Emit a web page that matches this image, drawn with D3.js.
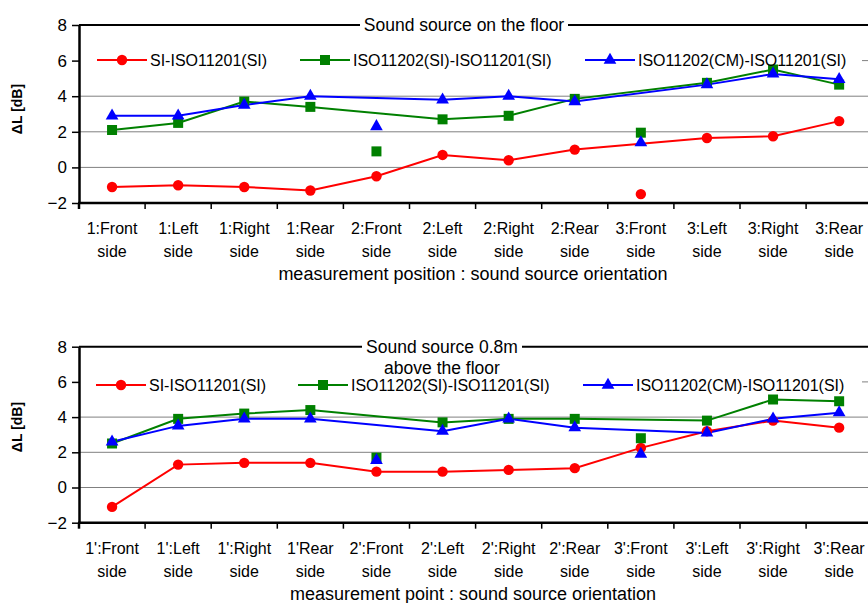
<!DOCTYPE html>
<html>
<head>
<meta charset="utf-8">
<script src="https://cdn.jsdelivr.net/npm/d3@7"></script>
<style>
  body { margin: 0; background: #fff; }
  text { font-family: Arial, "Liberation Sans", sans-serif; }
</style>
</head>
<body>
<script>
var width = 868,
    height = 603;

// categories (two text lines each)
var floorCats = ["1:Front", "1:Left", "1:Right", "1:Rear", "2:Front", "2:Left",
                 "2:Right", "2:Rear", "3:Front", "3:Left", "3:Right", "3:Rear"];
var raisedCats = ["1':Front", "1':Left", "1':Right", "1'Rear", "2':Front", "2':Left",
                  "2':Right", "2':Rear", "3':Front", "3':Left", "3':Right", "3':Rear"];
var yTicks = [-2, 0, 2, 4, 6, 8];
var seriesNames = ["SI-ISO11201(SI)", "ISO11202(SI)-ISO11201(SI)", "ISO11202(CM)-ISO11201(SI)"];

// sound source on the floor
var floorRed   = [-1.1, -1.0, -1.1, -1.3, -0.5, 0.7, 0.4, 1.0, null, 1.65, 1.75, 2.6];
var floorGreen = [2.1, 2.5, 3.7, 3.4, null, 2.7, 2.9, 3.85, null, 4.75, 5.5, 4.65];
var floorBlue  = [2.9, 2.9, 3.5, 4.0, null, 3.8, 4.0, 3.7, null, 4.65, 5.25, 4.95];
// single points at the same positions
var floorRedPts   = [null, null, null, null, null, null, null, null, -1.5, null, null, null];
var floorGreenPts = [null, null, null, null, 0.9, null, null, null, 1.95, null, null, null];
var floorBluePts  = [null, null, null, null, 2.3, null, null, null, 1.4, null, null, null];

// sound source 0.8m above the floor
var raisedRed   = [-1.1, 1.3, 1.4, 1.4, 0.9, 0.9, 1.0, 1.1, 2.25, 3.2, 3.8, 3.4];
var raisedGreen = [2.5, 3.9, 4.2, 4.4, null, 3.7, 3.9, 3.9, null, 3.8, 5.0, 4.9];
var raisedBlue  = [2.6, 3.5, 3.9, 3.9, null, 3.2, 3.9, 3.4, null, 3.1, 3.9, 4.25];
var raisedRedPts   = [null, null, null, null, null, null, null, null, null, null, null, null];
var raisedGreenPts = [null, null, null, null, 1.7, null, null, null, 2.8, null, null, null];
var raisedBluePts  = [null, null, null, null, 1.55, null, null, null, 1.9, null, null, null];

var colors = ["#ff0000", "#008000", "#0000ff"];
var shapes = [d3.symbolCircle, d3.symbolSquare, d3.symbolTriangle];
var sizes = [85, 100, 70];

var svg = d3.select("body").append("svg")
    .attr("width", width)
    .attr("height", height)
    .style("background-color", "#fff");

function drawPanel(cfg) {
    var g = svg.append("g");

    var x = d3.scaleBand()
        .domain(cfg.cats)
        .range([79, 79 + 66.1 * 12]);

    var y = d3.scaleLinear()
        .domain([-2, 8])
        .range([cfg.bottom, cfg.top]);

    var cx = function(i) { return x(cfg.cats[i]) + x.bandwidth() / 2; };

    // grid lines
    g.selectAll(".grid")
        .data(yTicks.filter(function(v) { return v > -2 && v < 8; }))
        .enter().append("line")
        .attr("x1", 79).attr("x2", width)
        .attr("y1", function(d) { return y(d); })
        .attr("y2", function(d) { return y(d); })
        .attr("stroke", "#808080")
        .attr("stroke-width", 1);

    // top border
    g.append("line")
        .attr("x1", 79).attr("x2", width)
        .attr("y1", y(8)).attr("y2", y(8))
        .attr("stroke", "#000").attr("stroke-width", 2);

    // legend background (hides the grid line)
    g.append("rect")
        .attr("x", 80).attr("y", cfg.legendY - 8)
        .attr("width", 782).attr("height", 15)
        .attr("fill", "#fff");

    // series lines
    cfg.series.forEach(function(vals, k) {
        var pts = vals.map(function(v, i) { return [cx(i), v]; })
            .filter(function(p) { return p[1] != null; });
        g.append("path")
            .attr("d", d3.line().x(function(p) { return p[0]; }).y(function(p) { return y(p[1]); })(pts))
            .attr("fill", "none")
            .attr("stroke", colors[k])
            .attr("stroke-width", 2);
    });

    // markers
    cfg.series.forEach(function(vals, k) {
        var all = vals.map(function(v, i) { return {i: i, v: v}; })
            .concat(cfg.points[k].map(function(v, i) { return {i: i, v: v}; }))
            .filter(function(d) { return d.v != null; });
        g.selectAll(".m" + k)
            .data(all)
            .enter().append("path")
            .attr("d", d3.symbol().type(shapes[k]).size(sizes[k]))
            .attr("transform", function(d) { return "translate(" + cx(d.i) + "," + y(d.v) + ")"; })
            .attr("fill", colors[k]);
    });

    // y axis
    var yAxis = g.append("g")
        .attr("transform", "translate(79,0)")
        .call(d3.axisLeft(y).tickValues(yTicks).tickSize(7).tickPadding(5).tickSizeOuter(0));
    yAxis.select(".domain").attr("stroke-width", 2.5);
    yAxis.selectAll(".tick line").attr("stroke-width", 1.5);
    yAxis.selectAll("text").style("font-size", "17px").attr("fill", "#000");

    // x axis
    g.append("line")
        .attr("x1", 78).attr("x2", width)
        .attr("y1", cfg.bottom).attr("y2", cfg.bottom)
        .attr("stroke", "#000").attr("stroke-width", 2.5);
    g.selectAll(".xt")
        .data(cfg.cats.slice(1))
        .enter().append("line")
        .attr("x1", function(d) { return x(d); })
        .attr("x2", function(d) { return x(d); })
        .attr("y1", cfg.bottom).attr("y2", cfg.bottom + 6)
        .attr("stroke", "#000").attr("stroke-width", 1.5);
    g.append("line")
        .attr("x1", 79).attr("x2", 79)
        .attr("y1", cfg.bottom).attr("y2", cfg.bottom + 6)
        .attr("stroke", "#000").attr("stroke-width", 2.5);

    var lab = g.selectAll(".xl")
        .data(cfg.cats)
        .enter().append("text")
        .attr("text-anchor", "middle")
        .style("font-size", "16px")
        .attr("fill", "#000");
    lab.append("tspan")
        .attr("x", function(d, i) { return cx(i); })
        .attr("y", cfg.bottom + 31)
        .text(function(d) { return d; });
    lab.append("tspan")
        .attr("x", function(d, i) { return cx(i); })
        .attr("y", cfg.bottom + 54)
        .text("side");

    g.append("text")
        .attr("x", 473).attr("y", cfg.bottom + 77)
        .attr("text-anchor", "middle")
        .style("font-size", "18px")
        .text(cfg.xTitle);

    g.append("text")
        .attr("transform", "translate(22," + cfg.yTitleY + ") rotate(-90)")
        .attr("text-anchor", "middle")
        .style("font-size", "14px")
        .style("font-weight", "bold")
        .text("\u0394L [dB]");

    // title with white box
    var tw = cfg.titleW;
    g.append("rect")
        .attr("x", cfg.titleX - tw / 2).attr("y", cfg.top - 11)
        .attr("width", tw).attr("height", cfg.title.length * 21 + 1)
        .attr("fill", "#fff");
    cfg.title.forEach(function(t, j) {
        g.append("text")
            .attr("x", cfg.titleX).attr("y", cfg.top + 6 + j * 21)
            .attr("text-anchor", "middle")
            .style("font-size", "17.5px")
            .text(t);
    });

    // legend
    var lx = cfg.legendX;
    seriesNames.forEach(function(name, k) {
        var x0 = lx[k];
        g.append("line")
            .attr("x1", x0).attr("x2", x0 + 50)
            .attr("y1", cfg.legendY).attr("y2", cfg.legendY)
            .attr("stroke", colors[k]).attr("stroke-width", 2);
        g.append("path")
            .attr("d", d3.symbol().type(shapes[k]).size(sizes[k]))
            .attr("transform", "translate(" + (x0 + 25) + "," + cfg.legendY + ")")
            .attr("fill", colors[k]);
        g.append("text")
            .attr("x", x0 + 53).attr("y", cfg.legendY + 6)
            .style("font-size", "16px")
            .text(name);
    });
}

drawPanel({
    cats: floorCats,
    top: 25, bottom: 203,
    series: [floorRed, floorGreen, floorBlue],
    points: [floorRedPts, floorGreenPts, floorBluePts],
    title: ["Sound source on the floor"],
    titleX: 464, titleW: 208,
    legendY: 60, legendX: [97, 300, 585],
    xTitle: "measurement position : sound source orientation",
    yTitleY: 109
});

drawPanel({
    cats: raisedCats,
    top: 346.7, bottom: 522.7,
    series: [raisedRed, raisedGreen, raisedBlue],
    points: [raisedRedPts, raisedGreenPts, raisedBluePts],
    title: ["Sound source 0.8m", "above the floor"],
    titleX: 442, titleW: 160,
    legendY: 385, legendX: [96, 298, 583],
    xTitle: "measurement point : sound source orientation",
    yTitleY: 427
});
</script>
</body>
</html>
